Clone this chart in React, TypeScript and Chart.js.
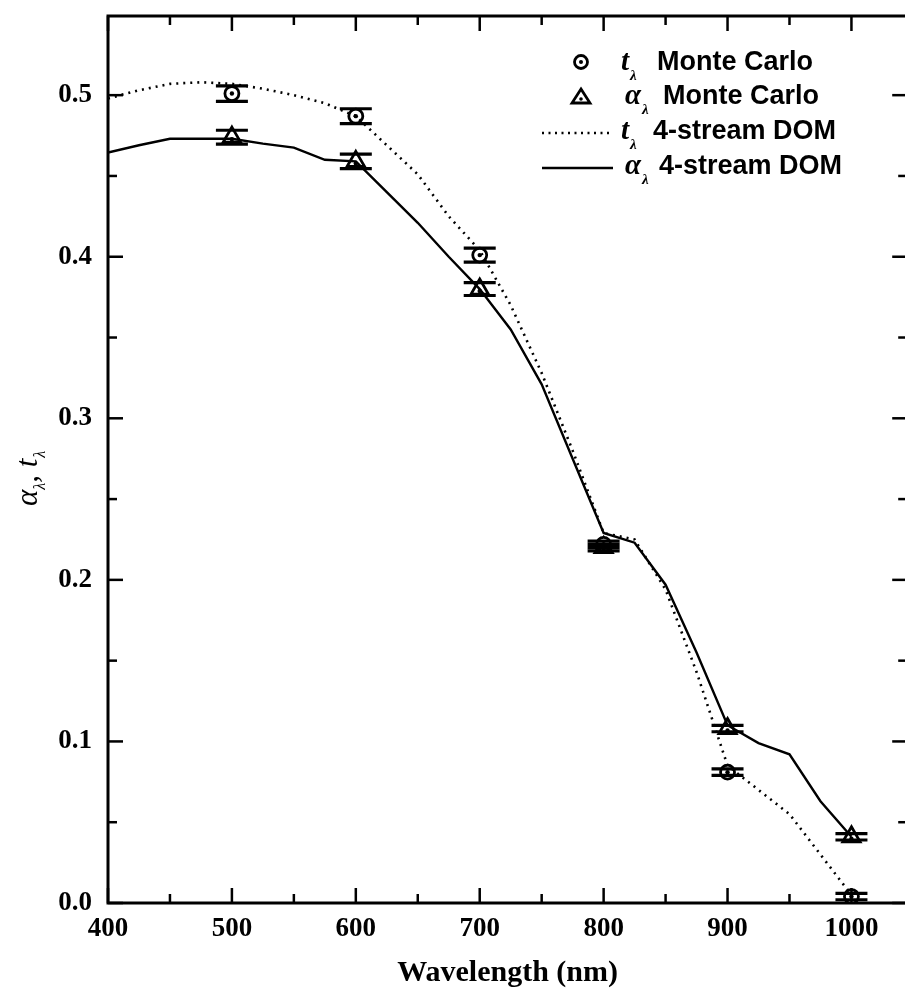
import React, { useEffect, useRef } from 'react';
import { Chart, registerables } from 'chart.js';

Chart.register(...registerables);

// ---------- data ----------
const mcWavelengths = [500, 600, 700, 800, 900, 1000];
const tMonteCarlo = [0.501, 0.487, 0.401, 0.222, 0.081, 0.004];
const tMonteCarloErr = [0.0048, 0.0046, 0.0043, 0.002, 0.002, 0.002];
const aMonteCarlo = [0.474, 0.459, 0.380, 0.220, 0.108, 0.041];
const aMonteCarloErr = [0.0043, 0.0045, 0.004, 0.002, 0.002, 0.002];

const domWavelengths = [400, 425, 450, 475, 500, 525, 550, 575, 600, 625, 650, 675, 700, 725, 750, 775, 800, 825, 850, 875, 900, 925, 950, 975, 1000];
const tDOM = [0.498, 0.503, 0.507, 0.508, 0.507, 0.504, 0.500, 0.495, 0.487, 0.469, 0.451, 0.425, 0.404, 0.370, 0.328, 0.280, 0.229, 0.225, 0.194, 0.143, 0.085, 0.070, 0.055, 0.030, 0.005];
const aDOM = [0.4645, 0.469, 0.473, 0.473, 0.473, 0.470, 0.4675, 0.460, 0.459, 0.440, 0.421, 0.400, 0.380, 0.355, 0.321, 0.275, 0.229, 0.223, 0.197, 0.155, 0.110, 0.099, 0.092, 0.063, 0.041];

const xMajorTicks = [400, 500, 600, 700, 800, 900, 1000];
const xMinorTicks = [450, 550, 650, 750, 850, 950];
const yMajorTicks = [0, 0.1, 0.2, 0.3, 0.4, 0.5];
const yMinorTicks = [0.05, 0.15, 0.25, 0.35, 0.45];

const X_MIN = 400;
const X_MAX = 1045;
const Y_MIN = 0;
const Y_MAX = 0.549;

const SERIF = '"Liberation Serif", "Times New Roman", serif';
const SANS = '"Liberation Sans", Arial, sans-serif';

// ---------- plugins ----------
const frameTicks = {
  id: 'frameTicks',
  afterDatasetsDraw(chart: any) {
    const { ctx, chartArea: a, scales } = chart;
    const xs = scales.x;
    const ys = scales.y;
    ctx.save();
    ctx.strokeStyle = '#000';
    ctx.lineWidth = 3;
    ctx.strokeRect(a.left, a.top, a.right - a.left, a.bottom - a.top);
    ctx.lineWidth = 2.5;
    const seg = (x1: number, y1: number, x2: number, y2: number) => {
      ctx.beginPath();
      ctx.moveTo(x1, y1);
      ctx.lineTo(x2, y2);
      ctx.stroke();
    };
    const xt = (vals: number[], L: number) => {
      vals.forEach((v) => {
        const p = xs.getPixelForValue(v);
        seg(p, a.bottom, p, a.bottom - L);
        seg(p, a.top, p, a.top + L);
      });
    };
    const yt = (vals: number[], L: number) => {
      vals.forEach((v) => {
        const p = ys.getPixelForValue(v);
        seg(a.left, p, a.left + L, p);
        seg(a.right, p, a.right - L, p);
      });
    };
    xt(xMajorTicks, 15);
    xt(xMinorTicks, 9);
    yt(yMajorTicks, 15);
    yt(yMinorTicks, 9);
    ctx.restore();
  },
};

const errorBars = {
  id: 'errorBars',
  beforeDatasetsDraw(chart: any) {
    const { ctx, scales } = chart;
    ctx.save();
    ctx.strokeStyle = '#000';
    ctx.lineWidth = 2.5;
    const bars = (vals: number[], errs: number[]) => {
      mcWavelengths.forEach((w, i) => {
        const x = scales.x.getPixelForValue(w);
        const y1 = scales.y.getPixelForValue(vals[i] + errs[i]);
        const y2 = scales.y.getPixelForValue(vals[i] - errs[i]);
        ctx.beginPath();
        ctx.moveTo(x, y1);
        ctx.lineTo(x, y2);
        ctx.stroke();
      });
    };
    bars(tMonteCarlo, tMonteCarloErr);
    bars(aMonteCarlo, aMonteCarloErr);
    ctx.restore();
  },
  afterDatasetsDraw(chart: any) {
    const { ctx, scales } = chart;
    ctx.save();
    ctx.strokeStyle = '#000';
    ctx.fillStyle = '#000';
    ctx.lineWidth = 3.2;
    const caps = (vals: number[], errs: number[], dy: number) => {
      mcWavelengths.forEach((w, i) => {
        const x = scales.x.getPixelForValue(w);
        const yc = scales.y.getPixelForValue(vals[i]);
        [vals[i] + errs[i], vals[i] - errs[i]].forEach((v) => {
          const y = scales.y.getPixelForValue(v);
          ctx.beginPath();
          ctx.moveTo(x - 16, y);
          ctx.lineTo(x + 16, y);
          ctx.stroke();
        });
        ctx.beginPath();
        ctx.arc(x, yc + dy, 2.2, 0, Math.PI * 2);
        ctx.fill();
      });
    };
    caps(tMonteCarlo, tMonteCarloErr, 0);
    caps(aMonteCarlo, aMonteCarloErr, 2);
    ctx.restore();
  },
};

function drawSymbolLabel(ctx: CanvasRenderingContext2D, x: number, y: number, sym: string, rest: string, textX: number) {
  ctx.textBaseline = 'alphabetic';
  ctx.textAlign = 'left';
  ctx.font = `italic bold 29px ${SERIF}`;
  ctx.fillText(sym, x, y);
  const sw = ctx.measureText(sym).width;
  ctx.font = `italic bold 15px ${SERIF}`;
  ctx.fillText('λ', x + sw + 1, y + 10);
  ctx.font = `bold 27px ${SANS}`;
  ctx.fillText(rest, textX, y);
}

const legendPlugin = {
  id: 'customLegend',
  afterDraw(chart: any) {
    const { ctx } = chart;
    ctx.save();
    ctx.fillStyle = '#000';
    ctx.strokeStyle = '#000';
    const rows = [62, 97, 133, 168];
    // marker 1: circle with dot
    ctx.lineWidth = 2.8;
    ctx.beginPath();
    ctx.arc(581, rows[0], 6.5, 0, Math.PI * 2);
    ctx.stroke();
    ctx.beginPath();
    ctx.arc(581, rows[0], 2, 0, Math.PI * 2);
    ctx.fill();
    // marker 2: triangle with dot
    ctx.beginPath();
    ctx.moveTo(581, rows[1] - 8);
    ctx.lineTo(590, rows[1] + 6);
    ctx.lineTo(572, rows[1] + 6);
    ctx.closePath();
    ctx.stroke();
    ctx.beginPath();
    ctx.arc(581, rows[1] + 2, 1.8, 0, Math.PI * 2);
    ctx.fill();
    // dotted line
    ctx.lineWidth = 2.5;
    ctx.setLineDash([2, 4.5]);
    ctx.beginPath();
    ctx.moveTo(542, rows[2]);
    ctx.lineTo(613, rows[2]);
    ctx.stroke();
    ctx.setLineDash([]);
    ctx.lineWidth = 2.5;
    ctx.beginPath();
    ctx.moveTo(542, rows[3]);
    ctx.lineTo(613, rows[3]);
    ctx.stroke();
    drawSymbolLabel(ctx, 621, rows[0] + 8, 't', 'Monte Carlo', 657);
    drawSymbolLabel(ctx, 625, rows[1] + 7, 'α', 'Monte Carlo', 663);
    drawSymbolLabel(ctx, 621, rows[2] + 6, 't', '4-stream DOM', 653);
    drawSymbolLabel(ctx, 625, rows[3] + 6, 'α', '4-stream DOM', 659);
    ctx.restore();
  },
};

const yTitlePlugin = {
  id: 'yTitle',
  afterDraw(chart: any) {
    const { ctx } = chart;
    ctx.save();
    ctx.translate(37, 506);
    ctx.rotate(-Math.PI / 2);
    ctx.fillStyle = '#000';
    ctx.textBaseline = 'alphabetic';
    ctx.textAlign = 'left';
    let x = 0;
    const big = `italic 31px ${SERIF}`;
    const small = `italic 16px ${SERIF}`;
    const put = (s: string, font: string, dy: number) => {
      ctx.font = font;
      ctx.fillText(s, x, dy);
      x += ctx.measureText(s).width;
    };
    put('α', big, 0);
    put('λ', small, 8);
    put(', ', big, 0);
    put('t', big, 0);
    x += 1;
    put('λ', small, 8);
    ctx.restore();
  },
};

export default function App() {
  const canvasRef = useRef<HTMLCanvasElement | null>(null);

  useEffect(() => {
    const canvas = canvasRef.current;
    if (!canvas) return;
    const toXY = (xs: number[], ys: number[]) => xs.map((x, i) => ({ x, y: ys[i] }));
    const chart = new Chart(canvas, {
      type: 'scatter',
      data: {
        datasets: [
          {
            label: 't DOM',
            type: 'line',
            data: toXY(domWavelengths, tDOM),
            borderColor: '#000',
            borderWidth: 2.6,
            borderDash: [2, 5],
            pointRadius: 0,
            showLine: true,
            tension: 0,
            fill: false,
          },
          {
            label: 'α DOM',
            type: 'line',
            data: toXY(domWavelengths, aDOM),
            borderColor: '#000',
            borderWidth: 2.4,
            pointRadius: 0,
            showLine: true,
            tension: 0,
            fill: false,
          },
          {
            label: 't Monte Carlo',
            data: toXY(mcWavelengths, tMonteCarlo),
            pointStyle: 'circle',
            pointRadius: 7,
            pointBorderWidth: 2.8,
            pointBorderColor: '#000',
            pointBackgroundColor: '#fff',
            showLine: false,
          },
          {
            label: 'α Monte Carlo',
            data: toXY(mcWavelengths, aMonteCarlo),
            pointStyle: 'triangle',
            pointRadius: 10,
            pointBorderWidth: 2.8,
            pointBorderColor: '#000',
            pointBackgroundColor: '#fff',
            showLine: false,
          },
        ],
      },
      options: {
        responsive: false,
        animation: false,
        devicePixelRatio: 1,
        layout: { padding: { left: 0, top: 16, right: 5, bottom: 0 } },
        plugins: {
          legend: { display: false },
          tooltip: { enabled: false },
          title: { display: false },
        },
        scales: {
          x: {
            type: 'linear',
            min: X_MIN,
            max: X_MAX,
            grid: { display: false, drawTicks: false },
            border: { display: false },
            afterBuildTicks: (s: any) => {
              s.ticks = xMajorTicks.map((v) => ({ value: v }));
            },
            afterFit: (s: any) => {
              s.height = 92;
              s.paddingLeft = 0;
              s.paddingRight = 0;
            },
            ticks: {
              color: '#000',
              padding: 10,
              maxRotation: 0,
              autoSkip: false,
              font: { family: SERIF, size: 27, weight: 'bold' },
              callback: (v: any) => String(v),
            },
            title: {
              display: true,
              text: 'Wavelength (nm)',
              color: '#000',
              font: { family: SERIF, size: 30, weight: 'bold' },
              padding: { top: 0, bottom: 4 },
            },
          },
          y: {
            type: 'linear',
            min: Y_MIN,
            max: Y_MAX,
            grid: { display: false, drawTicks: false },
            border: { display: false },
            afterBuildTicks: (s: any) => {
              s.ticks = yMajorTicks.map((v) => ({ value: v }));
            },
            afterFit: (s: any) => {
              s.width = 108;
              s.paddingTop = 0;
              s.paddingBottom = 0;
            },
            ticks: {
              color: '#000',
              padding: 16,
              autoSkip: false,
              font: { family: SERIF, size: 27, weight: 'bold' },
              callback: (v: any) => Number(v).toFixed(1),
            },
          },
        },
      },
      plugins: [errorBars, frameTicks, legendPlugin, yTitlePlugin],
    } as any);
    return () => chart.destroy();
  }, []);

  return (
    <div style={{ position: 'absolute', left: 0, top: 0, width: 905, height: 995, overflow: 'hidden', background: '#fff' }}>
      <canvas ref={canvasRef} width={920} height={995} style={{ width: 920, height: 995, display: 'block' }} />
    </div>
  );
}
